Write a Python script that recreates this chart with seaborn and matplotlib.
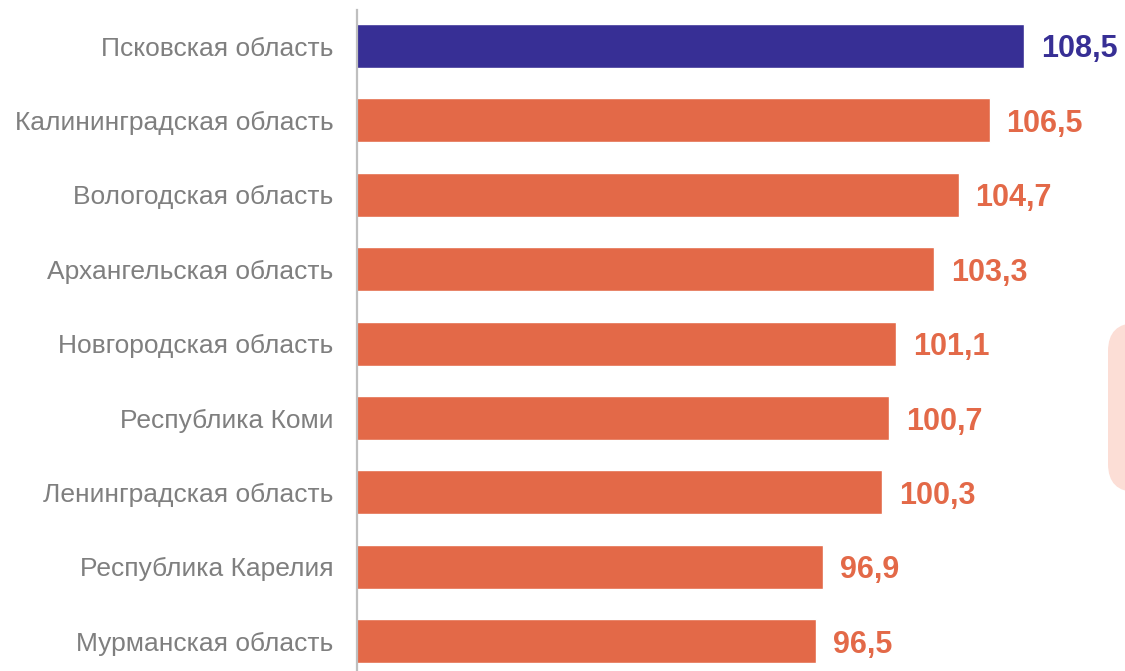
import seaborn as sns
import pandas as pd
import matplotlib.pyplot as plt
from matplotlib.patches import FancyBboxPatch

# data
regions = ['Псковская область', 'Калининградская область', 'Вологодская область',
           'Архангельская область', 'Новгородская область', 'Республика Коми',
           'Ленинградская область', 'Республика Карелия', 'Мурманская область']
values = [108.5, 106.5, 104.7, 103.3, 101.1, 100.7, 100.3, 96.9, 96.5]
value_labels = ['108,5', '106,5', '104,7', '103,3', '101,1', '100,7', '100,3', '96,9', '96,5']

navy = '#372F95'
orange = '#E36948'
colors = [navy] + [orange] * (len(regions) - 1)

df = pd.DataFrame({'region': regions, 'value': values})

sns.set_style('white')
plt.rcParams['font.family'] = ['Liberation Sans', 'DejaVu Sans']

fig = plt.figure(figsize=(11.25, 6.71), dpi=100)
ax = fig.add_axes([357 / 1125, 0, 1 - 357 / 1125, 661 / 671])

sns.barplot(data=df, x='value', y='region', hue='region', palette=colors,
            legend=False, width=0.59, orient='h', saturation=1, ax=ax)

ax.set_xlim(70, 114.3)
ax.set_ylim(8.40, -0.484)

# value labels to the right of each bar
for i, (v, lab) in enumerate(zip(values, value_labels)):
    ax.annotate(lab, xy=(v, i), xytext=(12, -2.5), textcoords='offset points',
                va='center', ha='left', fontsize=22, fontweight='bold',
                color=colors[i])

ax.set_xlabel('')
ax.set_ylabel('')
ax.set_xticks([])
ax.tick_params(axis='y', length=0, pad=17, labelsize=19, labelcolor='#7F7F7F')
for s in ['top', 'right', 'bottom']:
    ax.spines[s].set_visible(False)
ax.spines['left'].set_color('#BFBFBF')
ax.spines['left'].set_linewidth(1.6)

# faint rounded box cut off at the right edge
box = FancyBboxPatch((1108 / 1125, 1 - 492 / 671), 0.05, 169 / 671,
                     boxstyle='round,pad=0,rounding_size=0.025',
                     transform=fig.transFigure, facecolor='#FCDED6',
                     edgecolor='none', clip_on=False, mutation_aspect=1125 / 671)
fig.patches.append(box)

plt.savefig('out.png', dpi=100)
